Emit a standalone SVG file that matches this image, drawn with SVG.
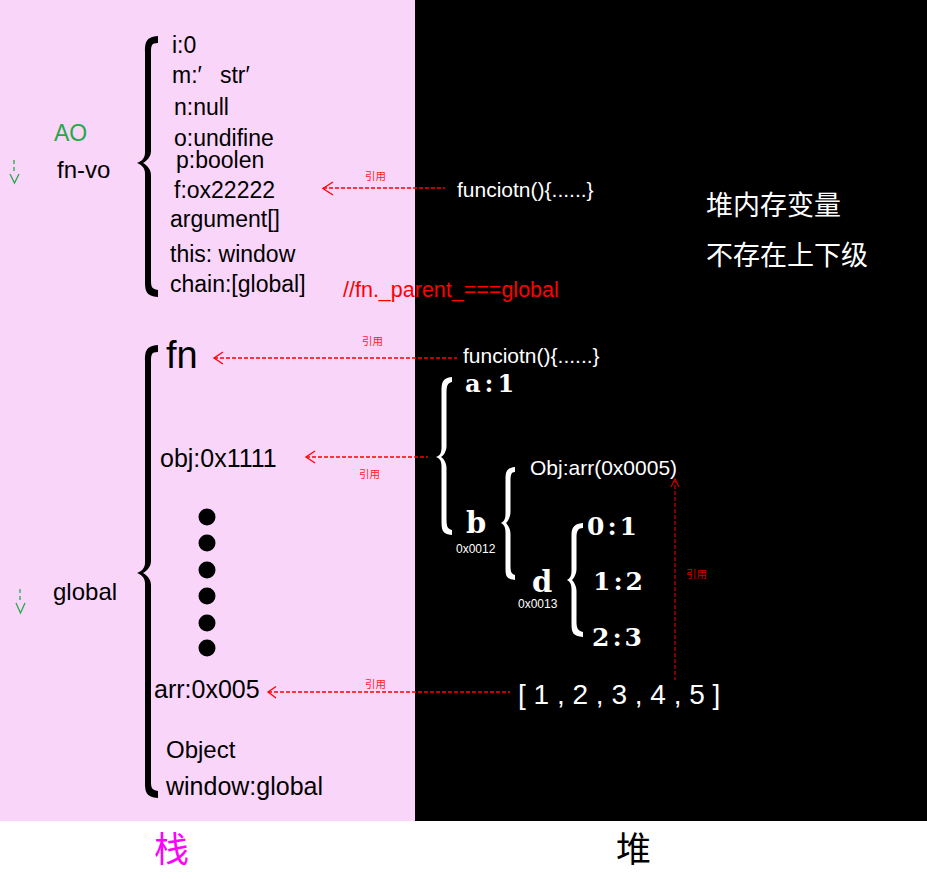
<svg xmlns="http://www.w3.org/2000/svg" width="927" height="879" viewBox="0 0 927 879">
<style>
.s{font-family:"Liberation Sans",Arial,sans-serif;fill:#000}
.w{font-family:"Liberation Sans",Arial,sans-serif;fill:#fff}
.bs{font-family:"DejaVu Serif","Liberation Serif",serif;font-weight:bold;fill:#fff}
.cj{font-family:"Noto Sans CJK SC",sans-serif}
.ref{font-family:"Noto Sans CJK SC",sans-serif;font-size:10.5px;fill:#f22}
.dash{fill:none;stroke:#f00;stroke-width:1.3;stroke-dasharray:4 2}
.head{fill:none;stroke:#f00;stroke-width:1.3}
.g{fill:none;stroke:#22aa44;stroke-width:1.3}
</style>
<rect x="0" y="0" width="927" height="879" fill="#fff"/>
<rect x="0" y="0" width="415" height="821" fill="#fad5fa"/>
<rect x="415" y="0" width="512" height="821" fill="#000"/>

<g id="fnvo-labels">
<text class="s" x="54" y="141" font-size="23" fill="#22aa44" style="fill:#22aa44">AO</text>
<text class="s" x="57" y="178" font-size="24">fn-vo</text>
<path class="g" d="M14,160 v4 M14,167 v4" stroke-dasharray="none"/>
<path class="g" d="M10,174 L14.5,183 L19,174"/>
</g>

<g id="ao-brace">
<path fill="#000" d="M158,36 C146,37 145,42 145,52 L145,153 C145,159 140,162 137,163 C140,164 145,167 145,173 L145,281 C145,291 146,296 158,297 L158,290 C151,289 151,286 151,279 L151,175 C151,168 145,164 143,163 C145,162 151,158 151,151 L151,54 C151,46 151,43 158,43 Z"/>
</g>

<g id="ao-items">
<text class="s" x="172" y="53" font-size="23">i:0</text>
<text class="s" x="172" y="83" font-size="23">m:′<tspan dx="18">str′</tspan></text>
<text class="s" x="174" y="115" font-size="23">n:null</text>
<text class="s" x="174" y="146" font-size="23">o:undifine</text>
<text class="s" x="176" y="168" font-size="23">p:boolen</text>
<text class="s" x="174" y="198" font-size="23">f:ox22222</text>
<text class="s" x="170" y="227" font-size="23">argument[]</text>
<text class="s" x="170" y="262" font-size="23">this: window</text>
<text class="s" x="170" y="292" font-size="23">chain:[global]</text>
</g>

<g id="parent-note">
<text class="s" x="343" y="297" font-size="21.5" style="fill:#f00">//fn._parent_===global</text>
</g>

<g id="heap-note">
<text class="cj" x="706" y="215" font-size="27" fill="#fff">堆内存变量</text>
<text class="cj" x="706" y="265" font-size="27" fill="#fff">不存在上下级</text>
</g>

<g id="heap-func1">
<text class="w" x="457" y="197" font-size="21">funciotn(){......}</text>
</g>
<g id="heap-func2">
<text class="w" x="463" y="363" font-size="21">funciotn(){......}</text>
</g>

<g id="global-labels">
<text class="s" x="53" y="600" font-size="24">global</text>
<path class="g" d="M20,589 v4 M20,596 v4"/>
<path class="g" d="M16,603 L20.5,613 L25,603"/>
</g>

<g id="global-brace">
<path fill="#000" d="M158,345 C146,346 145,351 145,361 L145,563 C145,569 140,572 137,573 C140,574 145,577 145,583 L145,782 C145,792 146,797 158,798 L158,791 C151,790 151,787 151,780 L151,585 C151,578 145,574 143,573 C145,572 151,568 151,561 L151,363 C151,355 151,352 158,352 Z"/>
</g>

<g id="global-items">
<text class="s" x="166" y="368" font-size="38">fn</text>
<text class="s" x="160" y="467" font-size="25">obj:0x1111</text>
<circle cx="207" cy="517" r="8.5" fill="#000"/>
<circle cx="207" cy="543" r="8.5" fill="#000"/>
<circle cx="207" cy="570" r="8.5" fill="#000"/>
<circle cx="207" cy="596" r="8.5" fill="#000"/>
<circle cx="207" cy="623" r="8.5" fill="#000"/>
<circle cx="207" cy="648" r="8.5" fill="#000"/>
<text class="s" x="154" y="698" font-size="25">arr:0x005</text>
<text class="s" x="166" y="758" font-size="24">Object</text>
<text class="s" x="166" y="795" font-size="25">window:global</text>
</g>

<g id="heap-obj">
<path fill="#fff" d="M452,377 C442,378 441.5,383 441.5,392 L441.5,448 C441.5,454 439,456 436,457 C439,458 441.5,460 441.5,466 L441.5,520 C441.5,530 442,534 452,535 L452,530 C447,529 446.5,526 446.5,518 L446.5,468 C446.5,462 443,458 441,457 C443,456 446.5,452 446.5,446 L446.5,394 C446.5,386 447,383 452,382 Z"/>
<text class="bs" x="465" y="392" font-size="24" letter-spacing="4">a:1</text>
<text class="bs" x="466" y="533" font-size="29">b</text>
<text class="w" x="456" y="553" font-size="12">0x0012</text>
</g>

<g id="heap-b">
<path fill="#fff" d="M515,467 C506,468 505.5,472 505.5,480 L505.5,514 C505.5,520 503,522 501,523 C503,524 505.5,526 505.5,532 L505.5,567 C505.5,576 506,579 515,580 L515,575 C511,574 510.5,571 510.5,565 L510.5,534 C510.5,528 507,524 506,523 C507,522 510.5,518 510.5,512 L510.5,482 C510.5,475 511,472 515,472 Z"/>
<text class="w" x="530" y="475" font-size="21">Obj:arr(0x0005)</text>
<text class="bs" x="532" y="592" font-size="29">d</text>
<text class="w" x="518" y="608" font-size="12">0x0013</text>
</g>

<g id="heap-d">
<path fill="#fff" d="M583,523 C573,524 571.5,528 571.5,536 L571.5,571 C571.5,577 569,579 567,580 C569,581 571.5,583 571.5,589 L571.5,624 C571.5,633 573,636 583,637 L583,632 C578,631 576.5,628 576.5,622 L576.5,591 C576.5,585 573,581 572,580 C573,579 576.5,575 576.5,569 L576.5,538 C576.5,531 578,528 583,528 Z"/>
<text class="bs" x="587" y="535" font-size="25" letter-spacing="3">0:1</text>
<text class="bs" x="593" y="590" font-size="25" letter-spacing="3">1:2</text>
<text class="bs" x="592" y="646" font-size="25" letter-spacing="3">2:3</text>
</g>

<g id="heap-arr">
<text class="w" x="518" y="704" font-size="28">[ 1 , 2 , 3 , 4 , 5 ]</text>
</g>

<g id="connectors">
<line class="dash" x1="323" y1="188" x2="445" y2="188"/>
<polyline class="head" points="333,182 323,188.5 333,195"/>
<text class="ref" x="365" y="180">引用</text>

<line class="dash" x1="214" y1="358" x2="457" y2="358"/>
<polyline class="head" points="223,352 214,358 223,364"/>
<text class="ref" x="362" y="345">引用</text>

<line class="dash" x1="306" y1="457" x2="428" y2="457"/>
<polyline class="head" points="315,451 306,457 315,463"/>
<text class="ref" x="359" y="478">引用</text>

<line class="dash" x1="268" y1="692" x2="510" y2="692"/>
<polyline class="head" points="276,686.5 268,692 276,698"/>
<text class="ref" x="365" y="688">引用</text>

<line class="dash" x1="675" y1="479" x2="675" y2="680" style="stroke:#c00000"/>
<polyline class="head" points="671,487 675,479 679,487" style="stroke:#c00000"/>
<text class="ref" x="686" y="578" style="fill:#d00000">引用</text>
</g>

<g id="captions">
<text class="cj" x="154" y="862" font-size="35" fill="#ff00ff">栈</text>
<text class="cj" x="616" y="862" font-size="35" fill="#000">堆</text>
</g>
</svg>
